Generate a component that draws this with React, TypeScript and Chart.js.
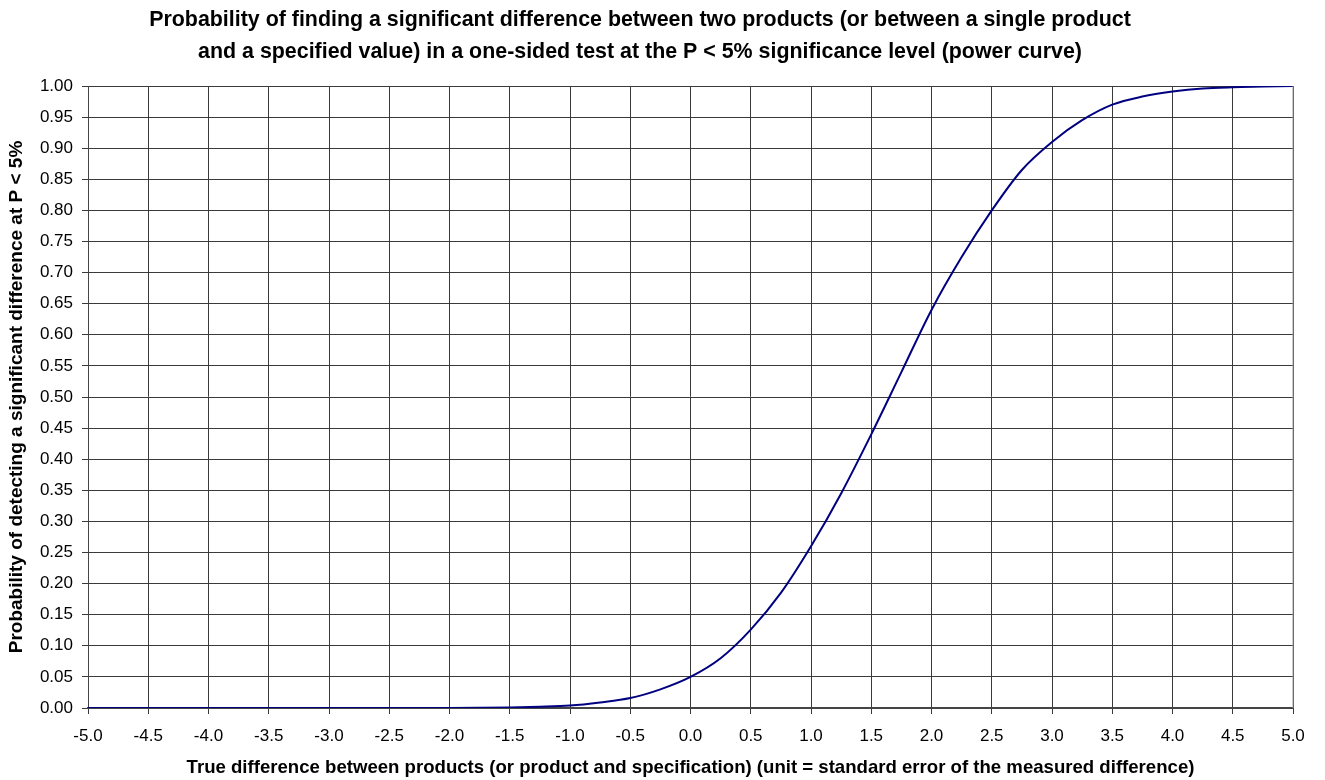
import React, { useEffect, useRef } from "react";
import { Chart, registerables } from "chart.js";

Chart.register(...registerables);

const xValues = [
  -5.0, -4.75, -4.5, -4.25, -4.0, -3.75, -3.5, -3.25, -3.0, -2.75, -2.5, -2.25, -2.0,
  -1.75, -1.5, -1.25, -1.0, -0.75, -0.5, -0.25, 0.0, 0.25, 0.5, 0.75, 1.0, 1.25, 1.5,
  1.75, 2.0, 2.25, 2.5, 2.75, 3.0, 3.25, 3.5, 3.75, 4.0, 4.25, 4.5, 4.75, 5.0,
];
const powerValues = [
  0, 0, 0, 0, 0, 0, 0, 0, 0, 0, 0, 0, 0.0001,
  0.0003, 0.0008, 0.002, 0.004, 0.009, 0.016, 0.03, 0.05, 0.08, 0.126, 0.185, 0.26, 0.345, 0.44,
  0.54, 0.64, 0.725, 0.80, 0.865, 0.91, 0.945, 0.97, 0.983, 0.991, 0.996, 0.998, 0.999, 1.0,
];
const titleLines = [
  "Probability of finding a significant difference between two products (or between a single product",
  "and a specified value) in a one-sided test at the P < 5% significance level (power curve)",
];
const xAxisTitle =
  "True difference between products (or product and specification) (unit = standard error of the measured difference)";
const yAxisTitle = "Probability of detecting a significant difference at P < 5%";

export default function App() {
  const ref = useRef<HTMLCanvasElement | null>(null);
  useEffect(() => {
    document.body.style.margin = "0";
    const canvas = ref.current!;
    const font = "'Liberation Sans', Arial, sans-serif";
    const chart = new Chart(canvas, {
      type: "line",
      data: {
        datasets: [
          {
            data: xValues.map((x, i) => ({ x, y: powerValues[i] })),
            borderColor: "#000080",
            borderWidth: 2,
            pointRadius: 0,
            cubicInterpolationMode: "monotone",
            fill: false,
          },
        ],
      },
      options: {
        animation: false,
        responsive: false,
        devicePixelRatio: 1,
        layout: { padding: { left: 0, right: 32, top: 86, bottom: 0 } },
        plugins: {
          legend: { display: false },
          tooltip: { enabled: false },
          title: { display: false },
        },
        scales: {
          x: {
            type: "linear",
            min: -5,
            max: 5,
            afterFit: (s: any) => {
              s.height = 72;
            },
            ticks: {
              stepSize: 0.5,
              color: "#000",
              font: { family: font, size: 17 },
              padding: 12,
              maxRotation: 0,
              autoSkip: false,
              callback: (v: any) => Number(v).toFixed(1),
            },
            grid: { color: "#3a3a3a", lineWidth: 1, tickLength: 6, drawTicks: true },
            border: { color: "#444", width: 2 },
            title: {
              display: true,
              text: xAxisTitle,
              color: "#000",
              font: { family: font, size: 18.6, weight: "bold" },
              padding: { top: 4, bottom: 1 },
            },
          },
          y: {
            type: "linear",
            min: 0,
            max: 1,
            afterFit: (s: any) => {
              s.width = 88;
            },
            ticks: {
              stepSize: 0.05,
              color: "#000",
              font: { family: font, size: 17 },
              padding: 9,
              autoSkip: false,
              callback: (v: any) => Number(v).toFixed(2),
            },
            grid: { color: "#3a3a3a", lineWidth: 1, tickLength: 6, drawTicks: true },
            border: { color: "#444" },
            title: {
              display: true,
              text: yAxisTitle,
              color: "#000",
              font: { family: font, size: 19, weight: "bold" },
              padding: { top: 5, bottom: 0 },
            },
          },
        },
      },
      plugins: [
        {
          id: "rightBorderAndTitle",
          afterDraw(c: any) {
            const a = c.chartArea;
            const ctx = c.ctx;
            ctx.save();
            ctx.strokeStyle = "#999";
            ctx.lineWidth = 1;
            ctx.beginPath();
            ctx.moveTo(a.right, a.top);
            ctx.lineTo(a.right, a.bottom);
            ctx.stroke();
            ctx.fillStyle = "#000";
            ctx.font = "bold 21.4px " + font;
            ctx.textAlign = "center";
            ctx.textBaseline = "alphabetic";
            ctx.fillText(titleLines[0], 640, 26);
            ctx.fillText(titleLines[1], 640, 58);
            ctx.restore();
          },
        },
      ],
    });
    return () => chart.destroy();
  }, []);
  return (
    <div style={{ width: 1325, height: 780, background: "#fff" }}>
      <canvas ref={ref} width={1325} height={780} />
    </div>
  );
}
